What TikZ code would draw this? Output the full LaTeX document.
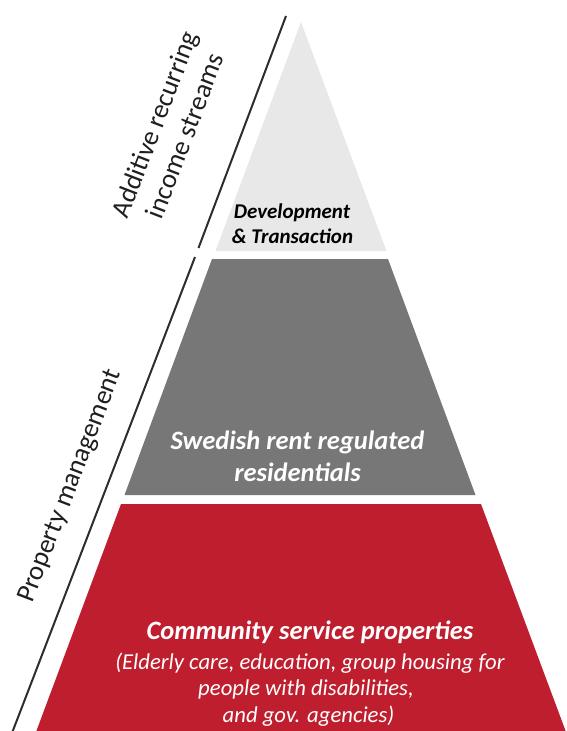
\documentclass[tikz,border=0pt]{standalone}
\usepackage{fontspec}
\setmainfont{Carlito}
\definecolor{tiertop}{RGB}{232,232,232}
\definecolor{tiermid}{RGB}{119,119,119}
\definecolor{tierbase}{RGB}{190,30,46}
\definecolor{sideline}{RGB}{45,45,45}
\begin{document}
\begin{tikzpicture}[x=1pt,y=-1pt,
  divider/.style={draw=sideline,line width=2pt},
  sidelabel/.style={rotate=69,align=center,font=\fontsize{27}{32}\selectfont,text=black!88,inner sep=0pt},
  tierline/.style={anchor=base,inner sep=0pt},
  devfont/.style={font=\fontsize{21}{25}\selectfont\bfseries\itshape},
  resfont/.style={text=white,font=\fontsize{26.5}{32}\selectfont\bfseries\itshape},
  cspfont/.style={text=white,font=\fontsize{26.5}{30}\selectfont\bfseries\itshape},
  subfont/.style={text=white,font=\fontsize{22.7}{27}\selectfont\itshape}]
\useasboundingbox (0,0) rectangle (566,731);
\clip (0,0) rectangle (566,731);
% pyramid tiers
\fill[tiertop] (301,22) -- (386.5,251) -- (215.5,251) -- cycle;
\fill[tiermid] (212,259) -- (388,259) -- (475.5,495) -- (124.5,495) -- cycle;
\fill[tierbase] (121,504) -- (481,504) -- (566,732) -- (36,732) -- cycle;
% side dividers
\coordinate (u1) at (286,16);
\coordinate (u2) at (198.5,248);
\coordinate (l1) at (195,257);
\coordinate (l2) at (12,733);
\draw[divider] (u1) -- (u2);
\draw[divider] (l1) -- (l2);
% tier labels, one node per line, placed on their baselines
\node[tierline,devfont] (dev1) at (292,218) {Development};
\node[tierline,devfont] (dev2) at (292.5,243) {\& Transaction};
\node[tierline,resfont] (res1) at (297.5,449) {Swedish rent regulated};
\node[tierline,resfont] (res2) at (297.5,481) {residentials};
\node[tierline,cspfont] (csp1) at (310,639) {Community service properties};
\node[tierline,subfont] (csp2) at (310,669) {(Elderly care, education, group housing for};
\node[tierline,subfont] (csp3) at (306,695) {people with disabilities,};
\node[tierline,subfont] (csp4) at (308.5,722) {and gov. agencies)};
% side labels along the dividers
\node[sidelabel] (add) at (169.5,130) {Additive recurring\\income streams};
\node[sidelabel] (pm) at (71,486) {Property management};
\end{tikzpicture}
\end{document}
